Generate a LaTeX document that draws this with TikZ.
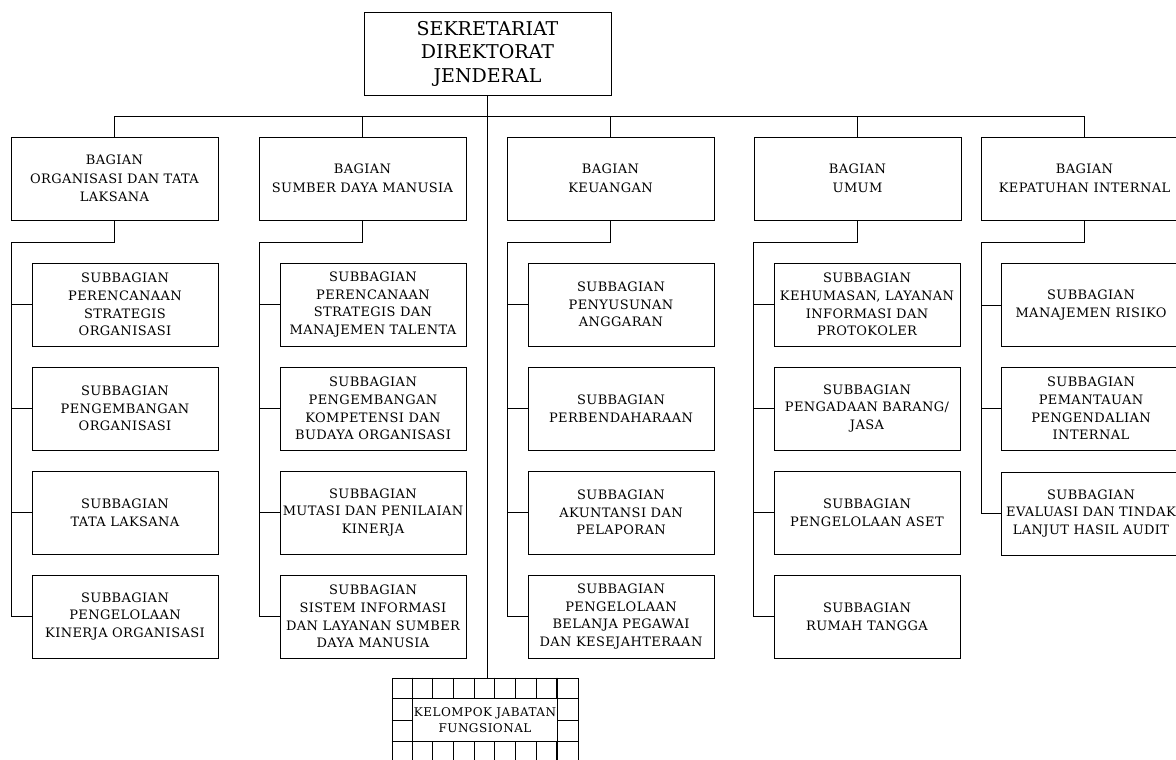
\documentclass[tikz,border=0pt]{standalone}
\usepackage{fontspec}
\usetikzlibrary{calc}
\newfontfamily\boxfont{DejaVu Serif}[LetterSpace=3]
\newfontfamily\topfont{DejaVu Serif}
\newfontfamily\kjffont{DejaVu Serif}[LetterSpace=4]
\begin{document}
\begin{tikzpicture}[x=1pt,y=-1pt,
  box/.style={draw, line width=0.9pt, inner sep=0pt, minimum height=83pt, align=center},
  topbox/.style={box, minimum width=247pt, font={\topfont\fontsize{19}{23.5}\selectfont}},
  bagbox/.style={box, minimum width=207pt, font={\boxfont\fontsize{13}{18.5}\selectfont}},
  subbox/.style={box, minimum width=186pt, font={\boxfont\fontsize{13}{17.7}\selectfont}},
  subboxr/.style={subbox, minimum width=180pt},
  kjfbox/.style={box, minimum width=186pt, minimum height=84pt, font={\kjffont\fontsize{12}{15.7}\selectfont}},
  conn/.style={line width=0.9pt}]
\path[use as bounding box] (0,0) rectangle (1176,760);
\clip (0,0) rectangle (1176,760);
\fill[white] (0,0) rectangle (1176,760);

% top
\node[topbox] (top) at (487.5,53.5) {SEKRETARIAT\\DIREKTORAT\\JENDERAL};

% bagian
\node[bagbox] (b1) at (114.5,178.5) {BAGIAN\\ORGANISASI DAN TATA\\LAKSANA};
\node[bagbox] (b2) at (362.5,178.5) {BAGIAN\\SUMBER DAYA MANUSIA};
\node[bagbox] (b3) at (610.5,178.5) {BAGIAN\\KEUANGAN};
\node[bagbox] (b4) at (857.5,178.5) {BAGIAN\\UMUM};
\node[bagbox] (b5) at (1084.5,178.5) {BAGIAN\\KEPATUHAN INTERNAL};

% column 1
\node[subbox] (s11) at (125,304.5) {SUBBAGIAN\\PERENCANAAN\\STRATEGIS\\ORGANISASI};
\node[subbox] (s12) at (125,408.5) {SUBBAGIAN\\PENGEMBANGAN\\ORGANISASI};
\node[subbox] (s13) at (125,512.5) {SUBBAGIAN\\TATA LAKSANA};
\node[subbox] (s14) at (125,616.5) {SUBBAGIAN\\PENGELOLAAN\\KINERJA ORGANISASI};
% column 2
\node[subbox] (s21) at (373,304.5) {SUBBAGIAN\\PERENCANAAN\\STRATEGIS DAN\\MANAJEMEN TALENTA};
\node[subbox] (s22) at (373,408.5) {SUBBAGIAN\\PENGEMBANGAN\\KOMPETENSI DAN\\BUDAYA ORGANISASI};
\node[subbox] (s23) at (373,512.5) {SUBBAGIAN\\MUTASI DAN PENILAIAN\\KINERJA};
\node[subbox] (s24) at (373,616.5) {SUBBAGIAN\\SISTEM INFORMASI\\DAN LAYANAN SUMBER\\DAYA MANUSIA};
% column 3
\node[subbox] (s31) at (621,304.5) {SUBBAGIAN\\PENYUSUNAN\\ANGGARAN};
\node[subbox] (s32) at (621,408.5) {SUBBAGIAN\\PERBENDAHARAAN};
\node[subbox] (s33) at (621,512.5) {SUBBAGIAN\\AKUNTANSI DAN\\PELAPORAN};
\node[subbox] (s34) at (621,616.5) {SUBBAGIAN\\PENGELOLAAN\\BELANJA PEGAWAI\\DAN KESEJAHTERAAN};
% column 4
\node[subbox] (s41) at (867,304.5) {SUBBAGIAN\\KEHUMASAN, LAYANAN\\INFORMASI DAN\\PROTOKOLER};
\node[subbox] (s42) at (867,408.5) {SUBBAGIAN\\PENGADAAN BARANG/\\JASA};
\node[subbox] (s43) at (867,512.5) {SUBBAGIAN\\PENGELOLAAN ASET};
\node[subbox] (s44) at (867,616.5) {SUBBAGIAN\\RUMAH TANGGA};
% column 5
\node[subboxr] (s51) at (1091,305) {SUBBAGIAN\\MANAJEMEN RISIKO};
\node[subboxr] (s52) at (1091,408.5) {SUBBAGIAN\\PEMANTAUAN\\PENGENDALIAN\\INTERNAL};
\node[subboxr] (s53) at (1091,513.5) {SUBBAGIAN\\EVALUASI DAN TINDAK\\LANJUT HASIL AUDIT};

% kelompok jabatan fungsional
\node[kjfbox] (kjf) at (485,720) {KELOMPOK JABATAN\\FUNGSIONAL};
\foreach \i in {1,...,8} {
  \draw[conn] ($(kjf.north west)+(\i*20.667,0)$) -- ++(0,21);
  \draw[conn] ($(kjf.south west)+(\i*20.667,0)$) -- ++(0,-21);
}
\draw[conn] ($(kjf.north west)+(20.667,0)$) -- ($(kjf.south west)+(20.667,0)$);
\draw[conn] ($(kjf.north east)+(-20.667,0)$) -- ($(kjf.south east)+(-20.667,0)$);
\draw[conn] ($(kjf.north west)+(0,21)$) -- ($(kjf.north east)+(0,21)$);
\draw[conn] ($(kjf.south west)+(0,-21)$) -- ($(kjf.south east)+(0,-21)$);
\draw[conn] (kjf.west) -- ++(20.667,0);
\draw[conn] (kjf.east) -- ++(-20.667,0);

% connectors
\coordinate (bus) at (0,116);
\draw[conn] (top.south) -- (top.south |- kjf.north);
\draw[conn] (b1.north |- bus) -- (b5.north |- bus);
\foreach \b in {b1,b2,b3,b4,b5} { \draw[conn] (\b.north |- bus) -- (\b.north); }

\coordinate (v1) at (11,242);
\coordinate (v2) at (259,242);
\coordinate (v3) at (507,242);
\coordinate (v4) at (753.5,242);
\coordinate (v5) at (981,242);

\draw[conn] (b1.south) -- (b1.south |- v1) -- (v1) |- (s14.west);
\draw[conn] (b2.south) -- (b2.south |- v2) -- (v2) |- (s24.west);
\draw[conn] (b3.south) -- (b3.south |- v3) -- (v3) |- (s34.west);
\draw[conn] (b4.south) -- (b4.south |- v4) -- (v4) |- (s44.west);
\draw[conn] (b5.south) -- (b5.south |- v5) -- (v5) |- (s53.west);
\foreach \c in {1,2,3,4} {
  \foreach \r in {1,2,3} { \draw[conn] (v\c |- s\c\r.west) -- (s\c\r.west); }
}
\foreach \r in {1,2} { \draw[conn] (v5 |- s5\r.west) -- (s5\r.west); }
\end{tikzpicture}
\end{document}
